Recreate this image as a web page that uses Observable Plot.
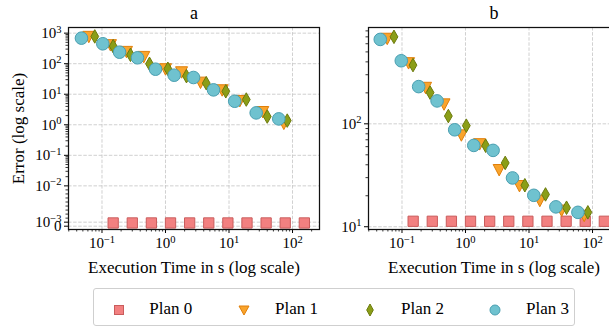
<!DOCTYPE html>
<html><head><meta charset="utf-8">
<script src="https://cdn.jsdelivr.net/npm/d3@7"></script>
<script src="https://cdn.jsdelivr.net/npm/@observablehq/plot@0.6"></script>
<style>
body{margin:0;background:#fff;font-family:'Liberation Serif','DejaVu Serif',serif;}
#fig{position:relative;width:609px;height:327px;overflow:hidden;background:#fff;}
#pa{position:absolute;left:0;top:0;width:325px;}
#pb{position:absolute;left:325px;top:0;width:300px;}
#fig svg{max-width:none !important;background:transparent !important;}
#fig svg text{font-family:'Liberation Serif','DejaVu Serif',serif !important;}
#legend{position:absolute;left:93px;top:288px;width:480px;height:36px;border:1px solid #cfcfcf;border-radius:3px;font-size:17px;color:#000;font-family:'Liberation Serif','DejaVu Serif',serif;}
#legend .it{position:absolute;top:0;height:38px;line-height:40px;}
#legend svg{position:absolute;top:14px;}
</style></head>
<body><div id="fig"><div id="pa"></div><div id="pb"></div><div id="legend"></div></div>
<script>
// ---------------- data ----------------
const planNames = ["Plan 0", "Plan 1", "Plan 2", "Plan 3"];

const plan0X  = [0.15, 0.3, 0.6, 1.2, 2.4, 4.8, 9.6, 19.2, 38.4, 76.8, 153.6];
const plan0A_Y = [0.0008, 0.0008, 0.0008, 0.0008, 0.0008, 0.0008, 0.0008, 0.0008, 0.0008, 0.0008, 0.0008];
const plan0B_Y = [11.3, 11.3, 11.3, 11.3, 11.3, 11.3, 11.3, 11.3, 11.3, 11.3, 11.3];

const plan1A_X = [0.062, 0.136, 0.243, 0.455, 1.0, 1.79, 3.56, 7.8, 14.8, 34, 73];
const plan1A_Y = [780, 417, 251, 172, 68, 54, 24.7, 13.9, 6.2, 2.7, 1.12];
const plan2A_X = [0.077, 0.15, 0.281, 0.56, 1.09, 2.14, 4.38, 8.9, 18.7, 40, 82.6];
const plan2A_Y = [780, 375, 195, 99, 68, 39, 23, 12.5, 6.7, 1.86, 1.37];
const plan3A_X = [0.0475, 0.103, 0.189, 0.362, 0.696, 1.37, 2.76, 5.7, 12.3, 26.8, 60.8];
const plan3A_Y = [685, 449, 238, 156, 66, 42, 35.3, 13.9, 5.9, 2.45, 1.56];

const plan1B_X = [0.0586, 0.127, 0.235, 0.459, 0.861, 1.67, 3.39, 7.08, 14.8, 32.6, 74];
const plan1B_Y = [677, 392, 226, 156, 78, 64, 35.9, 25.1, 18, 14.5, 12.9];
const plan2B_X = [0.0748, 0.149, 0.277, 0.537, 1.03, 2.08, 4.22, 8.6, 18.2, 39, 84.5];
const plan2B_Y = [700, 372, 201, 119, 96, 61.2, 41.7, 25.3, 20.6, 15.3, 13.8];
const plan3B_X = [0.0455, 0.0975, 0.183, 0.357, 0.676, 1.35, 2.72, 5.5, 11.9, 26.5, 58.9];
const plan3B_Y = [661, 410, 230, 167, 87.5, 61.7, 55.2, 29.8, 20.2, 15.6, 13.8];

const xLimits = [0.0297, 266];
const xMajor = [0.1, 1, 10, 100];
const xMajorLabels = ["10^-1", "10^0", "10^1", "10^2"];

const yLimitsA = [-0.00082, 1530];
const yMajorA = [0, 0.001, 0.01, 0.1, 1, 10, 100, 1000];
const yMajorLabelsA = ["0", "10^-3", "10^-2", "10^-1", "10^0", "10^1", "10^2", "10^3"];

const yLimitsB = [9.4, 863];
const yMajorB = [10, 100];
const yMajorLabelsB = ["10^1", "10^2"];

const titles = ["a", "b"];
const xTitle = "Execution Time in s (log scale)";
const yTitle = "Error (log scale)";

// ---------------- style ----------------
const FONT = "'Liberation Serif', 'DejaVu Serif', serif";
const colors = {
  p0: {fill: "#f28080", stroke: "#c95c5c"},
  p1: {fill: "#f9a42c", stroke: "#e07f0a"},
  p2: {fill: "#8b9e17", stroke: "#6b7a0c"},
  p3: {fill: "#6fc2cf", stroke: "#4a9fb1"}
};
const gridStyle = {stroke: "#c4c4c4", strokeWidth: 0.8, strokeDasharray: "3.5,1.6"};

// symmetric-log transform (linear near zero, log above threshold)
const T = 1e-2, L = 1.32;
const symT = v => Math.abs(v) <= T ? L * v / T : Math.sign(v) * (L + Math.log10(Math.abs(v) / T));

const triDown = {draw(ctx, size) {
  const r = Math.sqrt(size / Math.PI);
  ctx.moveTo(-r, -r * 0.85); ctx.lineTo(r, -r * 0.85); ctx.lineTo(0, r * 1.05); ctx.closePath();
}};

const minorDecades = (lo, hi) => {
  const out = [];
  for (let k = -4; k <= 4; k++) for (let m = 2; m <= 9; m++) {
    const v = m * Math.pow(10, k);
    if (v > lo && v < hi) out.push(v);
  }
  return out;
};
const rows = (X, Y) => X.map((x, i) => ({x, y: Y[i]}));

function panel({title, series, yfun, yDomain, yMajor, yLabels, yMinor, width, marginLeft, withYTitle}) {
  const ylab = new Map(yMajor.map((v, i) => [yfun(v), yLabels[i]]));
  const xlab = new Map(xMajor.map((v, i) => [v, xMajorLabels[i]]));
  const common = {clip: "frame"};
  const dotMarks = [
    Plot.dot(series[0], {x: "x", y: d => yfun(d.y), symbol: "square", r: 5.8, fill: colors.p0.fill, stroke: colors.p0.stroke, strokeWidth: 1, ...common}),
    Plot.dot(series[1], {x: "x", y: d => yfun(d.y), symbol: triDown, r: 6, fill: colors.p1.fill, stroke: colors.p1.stroke, strokeWidth: 1, ...common}),
    Plot.dot(series[2], {x: "x", y: d => yfun(d.y), symbol: "diamond", r: 4.1, fill: colors.p2.fill, stroke: colors.p2.stroke, strokeWidth: 1, ...common}),
    Plot.dot(series[3], {x: "x", y: d => yfun(d.y), symbol: "circle", r: 6.3, fill: colors.p3.fill, stroke: colors.p3.stroke, strokeWidth: 1, ...common})
  ];
  const marks = [
    Plot.ruleX(xMajor, gridStyle),
    Plot.ruleY(yMajor, {y: d => yfun(d), ...gridStyle}),
    Plot.axisX(minorDecades(xLimits[0], xLimits[1]), {tickSize: 2.5, tickFormat: () => "", label: null, strokeWidth: 0.8}),
    Plot.axisX(xMajor, {tickSize: 4, tickPadding: 4, tickFormat: d => xlab.get(d), label: null, fontSize: 15, fontFamily: FONT}),
    Plot.axisY(yMinor.map(yfun), {tickSize: 2.5, tickFormat: () => "", label: null, strokeWidth: 0.8}),
    Plot.axisY(yMajor.map(yfun), {tickSize: 4, tickPadding: 3, tickFormat: d => ylab.get(d), label: null, fontSize: 15, fontFamily: FONT}),
    ...dotMarks,
    Plot.frame({stroke: "#111", strokeWidth: 1.25}),
    Plot.text([title], {frameAnchor: "top", dy: -14, lineAnchor: "middle", fontSize: 18, fontFamily: FONT}),
    Plot.text([xTitle], {frameAnchor: "bottom", dy: 38, lineAnchor: "middle", fontSize: 17, fontFamily: FONT})
  ];
  if (withYTitle) marks.push(Plot.text([yTitle], {frameAnchor: "left", dx: -50, rotate: -90, textAnchor: "middle", lineAnchor: "middle", fontSize: 17, fontFamily: FONT}));
  return Plot.plot({
    width, height: 286, marginLeft, marginRight: 6, marginTop: 27, marginBottom: 57,
    style: {fontFamily: FONT, fontSize: "15px", color: "#000", background: "transparent", overflow: "visible"},
    x: {type: "log", domain: xLimits},
    y: {type: "linear", domain: yDomain.map(yfun)},
    marks
  });
}

const logY = v => Math.log10(v);

const svgA = panel({
  title: titles[0],
  series: [rows(plan0X, plan0A_Y), rows(plan1A_X, plan1A_Y), rows(plan2A_X, plan2A_Y), rows(plan3A_X, plan3A_Y)],
  yfun: symT, yDomain: yLimitsA, yMajor: yMajorA, yLabels: yMajorLabelsA,
  yMinor: minorDecades(0.001, 1000), width: 325, marginLeft: 68, withYTitle: true
});
const svgB = panel({
  title: titles[1],
  series: [rows(plan0X, plan0B_Y), rows(plan1B_X, plan1B_Y), rows(plan2B_X, plan2B_Y), rows(plan3B_X, plan3B_Y)],
  yfun: logY, yDomain: yLimitsB, yMajor: yMajorB, yLabels: yMajorLabelsB,
  yMinor: minorDecades(yLimitsB[0], yLimitsB[1]), width: 300, marginLeft: 43, withYTitle: false
});
document.getElementById("pa").append(svgA);
document.getElementById("pb").append(svgB);

// superscript formatting of "10^k" labels
const NS = "http://www.w3.org/2000/svg";
for (const svg of [svgA, svgB]) {
  for (const t of svg.querySelectorAll("text")) {
    const m = /^10\^(-?\d+)$/.exec(t.textContent);
    if (!m) continue;
    t.textContent = "";
    const a = document.createElementNS(NS, "tspan"); a.textContent = "10";
    const b = document.createElementNS(NS, "tspan");
    b.textContent = m[1].replace("-", "\u2212");
    b.setAttribute("dy", "-0.5em"); b.setAttribute("font-size", "0.7em");
    t.append(a, b);
  }
}

// legend
const legend = document.getElementById("legend");
const legendSym = [
  `<rect x="2.5" y="2.5" width="9" height="9" fill="${colors.p0.fill}" stroke="${colors.p0.stroke}"/>`,
  `<path d="M2,3 L12,3 L7,12 Z" fill="${colors.p1.fill}" stroke="${colors.p1.stroke}"/>`,
  `<path d="M7,1 L10.3,7 L7,13 L3.7,7 Z" fill="${colors.p2.fill}" stroke="${colors.p2.stroke}"/>`,
  `<circle cx="7" cy="7" r="5" fill="${colors.p3.fill}" stroke="${colors.p3.stroke}"/>`
];
const symX = [24.7, 149.7, 276.3, 401.3];
const txtX = [55.3, 181, 307, 432];
planNames.forEach((name, i) => {
  const s = document.createElement("div");
  s.innerHTML = `<svg width="14" height="14" viewBox="0 0 14 14" style="left:${symX[i] - 7}px">${legendSym[i]}</svg>`;
  legend.append(s.firstChild);
  const t = document.createElement("div");
  t.className = "it"; t.style.left = txtX[i] + "px"; t.textContent = name;
  legend.append(t);
});
</script>
</body></html>
